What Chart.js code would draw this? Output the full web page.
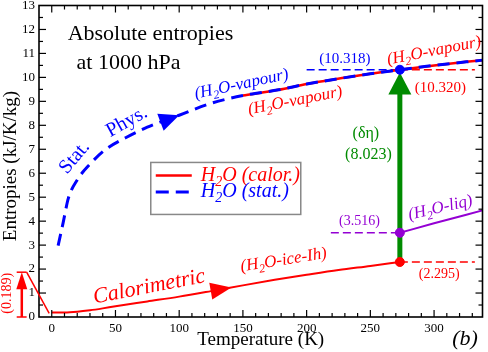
<!DOCTYPE html>
<html>
<head>
<meta charset="utf-8">
<title>Absolute entropies at 1000 hPa</title>
<script src="https://cdn.jsdelivr.net/npm/chart.js@4.4.1/dist/chart.umd.min.js"></script>
<style>
  html, body { margin: 0; padding: 0; background: #fff; }
  #chart { display: block; }
</style>
</head>
<body>
<canvas id="chart" width="488" height="352"></canvas>
<script>
// ice branch (calorimetric), 0 K -> triple point
var iceT = [0, 10, 20, 30, 40, 50, 75, 100, 125, 150, 175, 200, 225, 250, 273.15];
var iceS = [0.189, 0.19, 0.22, 0.28, 0.36, 0.45, 0.65, 0.85, 1.08, 1.32, 1.55, 1.76, 1.96, 2.13, 2.295];

// vapour branch (calorimetric, red solid)
var vapT = [150, 178, 200, 250, 273.15, 300, 338];
var vapS = [9.24, 9.48, 9.72, 10.15, 10.32, 10.5, 10.72];

// vapour (statistical physics, blue dashed)
var statT = [5, 9, 13, 20, 30, 42, 58, 75, 100, 125, 150, 178, 200, 250, 273.15, 300, 338];
var statS = [2.98, 3.95, 4.95, 5.72, 6.38, 6.98, 7.48, 7.92, 8.42, 8.92, 9.24, 9.48, 9.72, 10.15, 10.318, 10.5, 10.72];

// liquid water
var liqT = [273.15, 300, 338];
var liqS = [3.516, 3.91, 4.45];

// values at the triple point
var T0 = 273.15;
var sIce = 2.295;
var sLiq = 3.516;
var sVapStat = 10.318;
var sVapCal = 10.320;
var sResidual = 0.189;
var deltaEta = 8.023;
var etaArrowTip = 10.2;

// tick labels
var xTicks = [0, 50, 100, 150, 200, 250, 300];
var yTicks = [0, 1, 2, 3, 4, 5, 6, 7, 8, 9, 10, 11, 12, 13];

var RED = '#ff0000', BLUE = '#0000ff', GREEN = '#008b00', PURPLE = '#9400d3';
var SERIF = '"Liberation Serif", "Times New Roman", serif';

function pts(xs, ys) {
   var out = [];
   for (var i = 0; i < xs.length; i++) out.push({ x: xs[i], y: ys[i] });
   return out;
}

function interp(xs, ys, t) {
   for (var i = 1; i < xs.length; i++) {
      if (t <= xs[i]) {
         var f = (t - xs[i - 1]) / (xs[i] - xs[i - 1]);
         return ys[i - 1] + f * (ys[i] - ys[i - 1]);
      }
   }
   return ys[ys.length - 1];
}

// text with subscripts: parts = [[text, isSub], ...]
function richText(ctx, parts, x, y, size, color, angle, italic, align) {
   var base = (italic ? 'italic ' : '') + size + 'px ' + SERIF;
   var sub = (italic ? 'italic ' : '') + Math.round(size * 0.7) + 'px ' + SERIF;
   ctx.save();
   ctx.translate(x, y);
   ctx.rotate((angle || 0) * Math.PI / 180);
   var w = 0;
   parts.forEach(function (p) { ctx.font = p[1] ? sub : base; w += ctx.measureText(p[0]).width; });
   var cx = align === 'left' ? 0 : -w / 2;
   ctx.fillStyle = color;
   ctx.textAlign = 'left';
   ctx.textBaseline = 'middle';
   parts.forEach(function (p) {
      ctx.font = p[1] ? sub : base;
      ctx.fillText(p[0], cx, p[1] ? size * 0.32 : 0);
      cx += ctx.measureText(p[0]).width;
   });
   ctx.restore();
}

function arrowHead(ctx, tipX, tipY, fromX, fromY, len, half, color) {
   var dx = tipX - fromX, dy = tipY - fromY;
   var d = Math.sqrt(dx * dx + dy * dy);
   var ux = dx / d, uy = dy / d;
   var bx = tipX - ux * len, by = tipY - uy * len;
   ctx.save();
   ctx.fillStyle = color;
   ctx.beginPath();
   ctx.moveTo(tipX, tipY);
   ctx.lineTo(bx - uy * half, by + ux * half);
   ctx.lineTo(bx + uy * half, by - ux * half);
   ctx.closePath();
   ctx.fill();
   ctx.restore();
}

function seg(ctx, x1, y1, x2, y2) {
   ctx.beginPath();
   ctx.moveTo(x1, y1);
   ctx.lineTo(x2, y2);
   ctx.stroke();
}

var decorations = {
   id: 'decorations',

   // arrow heads go under the points
   beforeDatasetsDraw: function (chart) {
      var ctx = chart.ctx, X = chart.scales.x, Y = chart.scales.y;

      // blue arrow on the stat. curve
      arrowHead(ctx, X.getPixelForValue(100), Y.getPixelForValue(interp(statT, statS, 100)),
                X.getPixelForValue(88), Y.getPixelForValue(interp(statT, statS, 88)), 20, 9, BLUE);
      // red arrow on the calorimetric curve
      arrowHead(ctx, X.getPixelForValue(141), Y.getPixelForValue(interp(iceT, iceS, 141)),
                X.getPixelForValue(125), Y.getPixelForValue(interp(iceT, iceS, 125)), 21, 8.5, RED);
      // green arrow (delta eta)
      arrowHead(ctx, X.getPixelForValue(T0), Y.getPixelForValue(etaArrowTip),
                X.getPixelForValue(T0), Y.getPixelForValue(sIce), 22, 11.5, GREEN);
   },

   afterDraw: function (chart) {
      var ctx = chart.ctx, a = chart.chartArea, X = chart.scales.x, Y = chart.scales.y;
      var px = function (t) { return X.getPixelForValue(t); };
      var py = function (s) { return Y.getPixelForValue(s); };

      // frame + inward ticks on the four sides
      ctx.save();
      ctx.strokeStyle = '#000';
      ctx.lineWidth = 1.2;
      for (var t = 0; t <= X.max; t += 10) {
         var len = (t % 50 === 0) ? 7 : 4;
         seg(ctx, px(t), a.bottom, px(t), a.bottom - len);
         seg(ctx, px(t), a.top, px(t), a.top + len);
      }
      for (var k = 1; k < 26; k++) {
         var l2 = (k % 2 === 0) ? 7 : 4;
         seg(ctx, a.left, py(k / 2), a.left + l2, py(k / 2));
         seg(ctx, a.right, py(k / 2), a.right - l2, py(k / 2));
      }
      ctx.lineWidth = 1.6;
      ctx.strokeRect(a.left, a.top, a.right - a.left, a.bottom - a.top);
      ctx.restore();

      // residual entropy marker, left of the axis
      ctx.save();
      ctx.strokeStyle = RED;
      ctx.lineWidth = 2.5;
      seg(ctx, px(-23.5), py(0), px(-23.5), py(1.2));
      ctx.lineWidth = 1.5;
      seg(ctx, px(-27.5), py(0), px(-19.7), py(0));
      seg(ctx, px(-27.5), py(1.87), px(-19.7), py(1.87));
      seg(ctx, px(-19.7), py(1.87), px(-2), py(0.15));
      ctx.restore();
      arrowHead(ctx, px(-23.5), py(1.87), px(-23.5), py(0), 17, 5.5, RED);
      richText(ctx, [['(' + sResidual.toFixed(3) + ')', 0]], px(-35), py(0.99), 14, RED, -90, false);

      // titles
      richText(ctx, [['Absolute entropies', 0]], px(12.5), py(11.8), 22, '#000', 0, false, 'left');
      richText(ctx, [['at 1000 hPa', 0]], px(19.5), py(10.6), 22, '#000', 0, false, 'left');
      richText(ctx, [['Temperature (K)', 0]], (a.left + a.right) / 2, 340, 19, '#000', 0, false);
      richText(ctx, [['Entropies (kJ/K/kg)', 0]], 11, 166, 19, '#000', -90, false);
      richText(ctx, [['(b)', 0]], 465, 339, 22, '#000', 0, true);

      // curve labels
      richText(ctx, [['Stat.', 0]], px(18), py(6.65), 20, BLUE, -50, false);
      richText(ctx, [['Phys.', 0]], px(59), py(8.14), 20, BLUE, -29, false);
      richText(ctx, [['Calorimetric', 0]], px(76.5), py(1.25), 22, RED, -11, true);
      richText(ctx, [['(H', 0], ['2', 1], ['O-vapour)', 0]], px(149), py(9.71), 17, BLUE, -12, true);
      richText(ctx, [['(H', 0], ['2', 1], ['O-vapour)', 0]], px(191), py(9.02), 17, RED, -11, true);
      richText(ctx, [['(H', 0], ['2', 1], ['O-vapour)', 0]], px(300), py(11.1), 17, RED, -11, true);
      richText(ctx, [['(H', 0], ['2', 1], ['O-ice-Ih)', 0]], px(182), py(2.37), 17, RED, -9, true);
      richText(ctx, [['(H', 0], ['2', 1], ['O-liq)', 0]], px(305), py(4.55), 17, PURPLE, -13, true);

      // values at the triple point
      richText(ctx, [['(' + sVapStat.toFixed(3) + ')', 0]], px(230), py(10.75), 15, BLUE, 0, false);
      richText(ctx, [['(' + sVapCal.toFixed(3) + ')', 0]], px(305), py(9.55), 15, RED, 0, false);
      richText(ctx, [['(\u03b4\u03b7)', 0]], px(246.5), py(7.66), 16, GREEN, 0, false);
      richText(ctx, [['(' + deltaEta.toFixed(3) + ')', 0]], px(248.5), py(6.76), 16, GREEN, 0, false);
      richText(ctx, [['(' + sLiq.toFixed(3) + ')', 0]], px(241.5), py(4.0), 14, PURPLE, 0, false);
      richText(ctx, [['(' + sIce.toFixed(3) + ')', 0]], px(304), py(1.78), 14, RED, 0, false);

      // legend box
      var bx = px(77.7), by = py(6.45);
      ctx.save();
      ctx.fillStyle = '#fff';
      ctx.fillRect(bx, by, 150, 52);
      ctx.strokeStyle = '#888';
      ctx.lineWidth = 1.5;
      ctx.strokeRect(bx, by, 150, 52);
      ctx.lineWidth = 2.5;
      ctx.strokeStyle = RED;
      seg(ctx, bx + 5, by + 13, bx + 41, by + 13);
      ctx.strokeStyle = BLUE;
      ctx.lineWidth = 3;
      ctx.setLineDash([13, 7]);
      seg(ctx, bx + 5, by + 29.5, bx + 38, by + 29.5);
      ctx.restore();
      richText(ctx, [['H', 0], ['2', 1], ['O (calor.)', 0]], bx + 50, by + 13, 20, RED, 0, true, 'left');
      richText(ctx, [['H', 0], ['2', 1], ['O (stat.)', 0]], bx + 50, by + 29.5, 20, BLUE, 0, true, 'left');
   }
};

var ctx = document.getElementById('chart').getContext('2d');
var chart = new Chart(ctx, {
   type: 'scatter',
   data: {
      datasets: [
         // points at the triple point (on top)
         { data: pts([T0, T0, T0], [sVapStat, sLiq, sIce]), pointRadius: 4.5,
           pointBackgroundColor: [BLUE, PURPLE, RED], pointBorderColor: [BLUE, PURPLE, RED], showLine: false },
         { data: pts(statT, statS), showLine: true, borderColor: BLUE, borderWidth: 3,
           borderDash: [12, 7], pointRadius: 0, cubicInterpolationMode: 'monotone' },
         { data: pts(vapT, vapS), showLine: true, borderColor: RED, borderWidth: 2.5,
           pointRadius: 0, cubicInterpolationMode: 'monotone' },
         { data: pts([T0, T0], [sIce, etaArrowTip - 0.6]), showLine: true, borderColor: GREEN,
           borderWidth: 5, pointRadius: 0 },
         { data: pts(liqT, liqS), showLine: true, borderColor: PURPLE, borderWidth: 2,
           pointRadius: 0, cubicInterpolationMode: 'monotone' },
         { data: pts(iceT, iceS), showLine: true, borderColor: RED, borderWidth: 2,
           pointRadius: 0, cubicInterpolationMode: 'monotone' },
         // dashed reference levels
         { data: pts([200, T0], [sVapStat, sVapStat]), showLine: true, borderColor: BLUE,
           borderWidth: 1.5, borderDash: [8, 4], pointRadius: 0 },
         { data: pts([T0, 332], [sVapCal, sVapCal]), showLine: true, borderColor: RED,
           borderWidth: 1.5, borderDash: [8, 4], pointRadius: 0 },
         { data: pts([219, T0], [sLiq, sLiq]), showLine: true, borderColor: PURPLE,
           borderWidth: 1.5, borderDash: [8, 4], pointRadius: 0 },
         { data: pts([T0, 332], [sIce, sIce]), showLine: true, borderColor: RED,
           borderWidth: 1.5, borderDash: [8, 4], pointRadius: 0 }
      ]
   },
   options: {
      responsive: false,
      animation: false,
      devicePixelRatio: 1,
      layout: { padding: { top: 4, right: 2, left: 0, bottom: 0 } },
      plugins: { legend: { display: false }, tooltip: { enabled: false } },
      scales: {
         x: {
            type: 'linear', min: -10, max: 338,
            grid: { display: false, drawTicks: false },
            border: { display: false },
            ticks: { padding: 4, color: '#000', font: { family: SERIF, size: 13 }, maxRotation: 0 },
            afterBuildTicks: function (s) { s.ticks = xTicks.map(function (v) { return { value: v }; }); },
            afterFit: function (s) { s.height = 35; s.paddingLeft = 0; s.paddingRight = 0; }
         },
         y: {
            type: 'linear', min: 0, max: 13,
            grid: { display: false, drawTicks: false },
            border: { display: false },
            ticks: { padding: 4, color: '#000', font: { family: SERIF, size: 13 } },
            afterBuildTicks: function (s) { s.ticks = yTicks.map(function (v) { return { value: v }; }); },
            afterFit: function (s) { s.width = 39; s.paddingTop = 0; s.paddingBottom = 0; }
         }
      }
   },
   plugins: [decorations]
});
</script>
</body>
</html>
